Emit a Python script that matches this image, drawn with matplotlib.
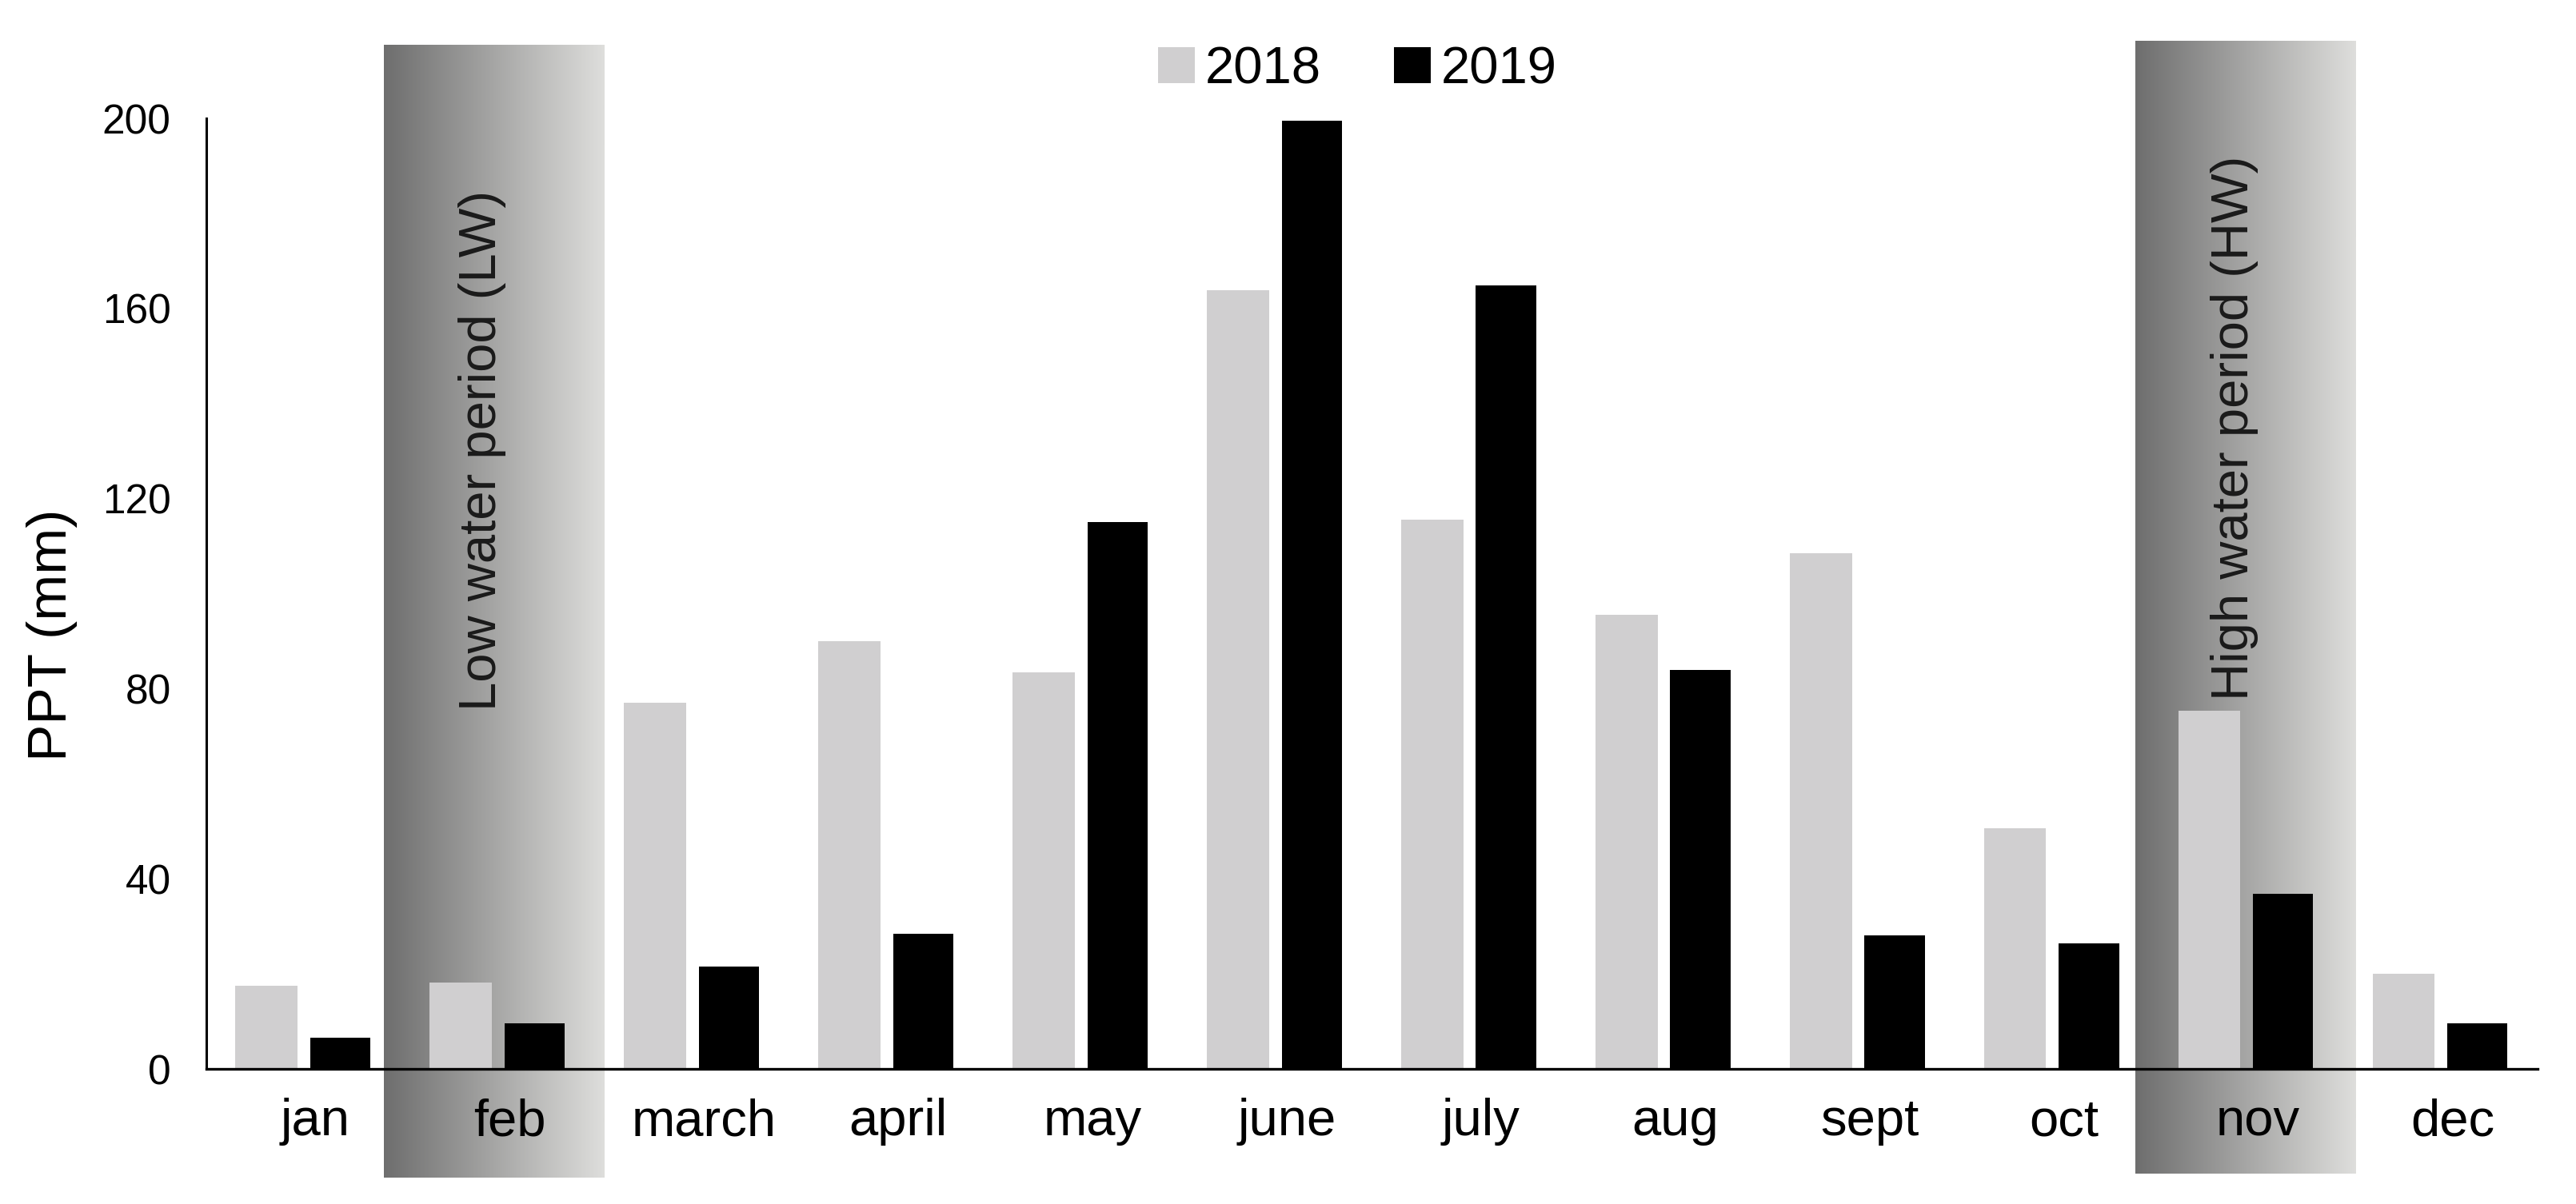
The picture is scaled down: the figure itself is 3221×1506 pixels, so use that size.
import numpy as np
import matplotlib
matplotlib.use("Agg")
import matplotlib.pyplot as plt
import matplotlib.transforms as mtransforms
from matplotlib.colors import LinearSegmentedColormap

plt.rcParams['font.family'] = ['Liberation Sans', 'DejaVu Sans']

months = ['jan', 'feb', 'march', 'april', 'may', 'june', 'july',
          'aug', 'sept', 'oct', 'nov', 'dec']
ppt_2018 = [17.5, 18.2, 77.0, 90.0, 83.4, 163.8, 115.6, 95.5, 108.5, 50.6, 75.4, 20.0]
ppt_2019 = [6.5, 9.6, 21.5, 28.5, 115.1, 199.5, 164.8, 83.9, 28.1, 26.4, 36.8, 9.6]
yticks = [0, 40, 80, 120, 160, 200]

fig = plt.figure(figsize=(32.21, 15.06), dpi=100)
ax = fig.add_axes([0.0801, 0.1122, 0.905, 0.7895])

x = np.arange(len(months))

# shaded periods (gradient dark -> light)
grad = LinearSegmentedColormap.from_list('band', ['#6e6e6e', '#dededc'])
g = np.linspace(0, 1, 256).reshape(1, -1)
ax.imshow(g, cmap=grad, extent=[0.414, 1.55, -22.9, 215.3], aspect='auto',
          clip_on=False, zorder=0)
ax.imshow(g, cmap=grad, extent=[9.43, 10.566, -22.0, 216.3], aspect='auto',
          clip_on=False, zorder=0)

ax.bar(x - 0.19, ppt_2018, width=0.32, color='#d0cfd0', label='2018', zorder=2)
ax.bar(x + 0.19, ppt_2019, width=0.31, color='black', label='2019', zorder=2)

ax.text(0.92, 75.4, 'Low water period (LW)', rotation=90, ha='center', va='bottom',
        fontsize=47, color='#1a1a1a', zorder=3)
ax.text(9.94, 77.5, 'High water period (HW)', rotation=90, ha='center', va='bottom',
        fontsize=47, color='#1a1a1a', zorder=3)

ax.set_xlim(-0.5, 11.5)
ax.set_ylim(0, 200)
ax.set_yticks(yticks)
ax.set_xticks(x)
ax.set_xticklabels(months)
ax.tick_params(axis='y', length=0, pad=32, labelsize=37)
ax.tick_params(axis='x', length=0, pad=26, labelsize=47)

# excel-like labels sit a little right of the category centre
shift = mtransforms.ScaledTranslation(0.15, 0, fig.dpi_scale_trans)
for lbl in ax.get_xticklabels():
    lbl.set_transform(lbl.get_transform() + shift)

for s in ['top', 'right']:
    ax.spines[s].set_visible(False)
ax.spines['left'].set_linewidth(2.2)
ax.spines['bottom'].set_linewidth(2.4)
ax.set_facecolor('none')

fig.text(65 / 3221, 1 - 794 / 1506, 'PPT (mm)', rotation=90, ha='center', va='center',
         fontsize=50)

fig.legend(loc='center', bbox_to_anchor=(0.527, 0.942), ncol=2, frameon=False,
           fontsize=47, handlelength=0.7, handleheight=0.7, handletextpad=0.2,
           columnspacing=1.4)

fig.savefig('out.png', dpi=100)
